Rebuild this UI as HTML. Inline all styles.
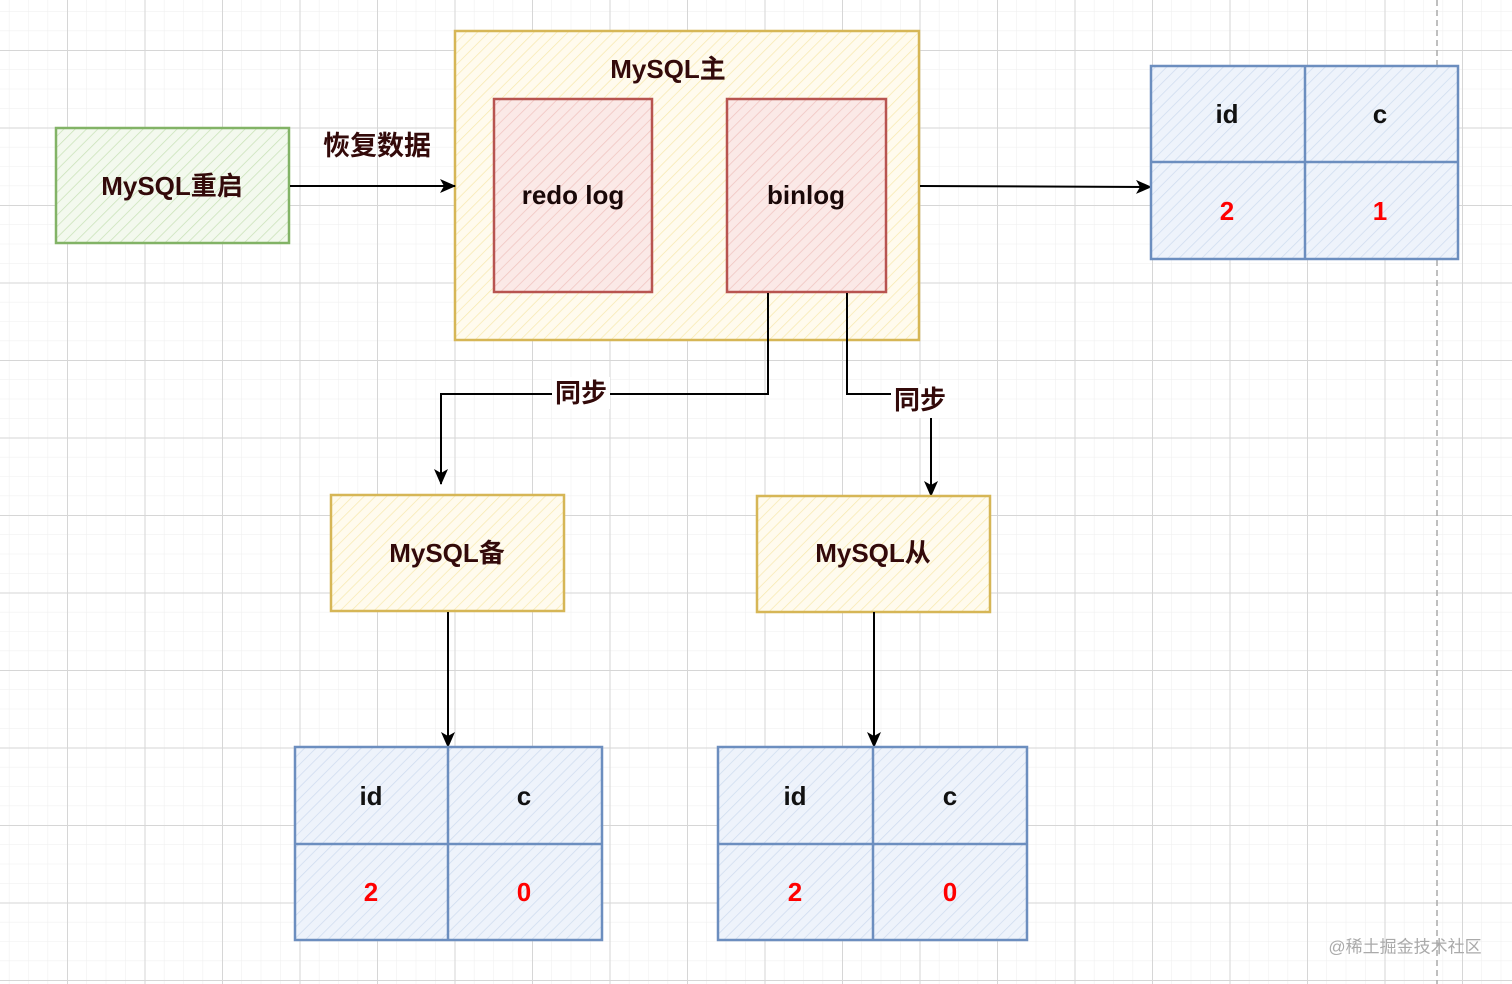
<!DOCTYPE html>
<html><head><meta charset="utf-8"><style>
html,body{margin:0;padding:0;background:#fff;}
svg{display:block;}
text{font-family:"Liberation Sans","Noto Sans CJK SC",sans-serif;font-weight:bold;text-anchor:middle;dominant-baseline:central;}
</style></head><body>
<svg width="1512" height="984" viewBox="0 0 1512 984" xmlns="http://www.w3.org/2000/svg">
<defs>
<pattern id="minor" width="19.375" height="19.375" patternUnits="userSpaceOnUse" x="-10.5" y="50">
<path d="M0 0H19.375M0 0V19.375" stroke="#eeeeee" stroke-width="1" fill="none"/>
</pattern>
<pattern id="major" width="77.5" height="77.5" patternUnits="userSpaceOnUse" x="-10.5" y="50">
<path d="M0 0.5H77.5M0.5 0V77.5" stroke="#d6d6d6" stroke-width="1" fill="none"/>
</pattern>
<pattern id="hg" width="8" height="8" patternUnits="userSpaceOnUse" patternTransform="rotate(45)"><rect width="8" height="8" fill="#f3f9ee"/><line x1="0" y1="0" x2="0" y2="8" stroke="#c9e2b8" stroke-width="1.5"/></pattern>
<pattern id="hy" width="8" height="8" patternUnits="userSpaceOnUse" patternTransform="rotate(45)"><rect width="8" height="8" fill="#fffbee"/><line x1="0" y1="0" x2="0" y2="8" stroke="#f7e9b0" stroke-width="1.5"/></pattern>
<pattern id="hr" width="8" height="8" patternUnits="userSpaceOnUse" patternTransform="rotate(45)"><rect width="8" height="8" fill="#fbe9e7"/><line x1="0" y1="0" x2="0" y2="8" stroke="#f0c4c0" stroke-width="1.5"/></pattern>
<pattern id="hb" width="8" height="8" patternUnits="userSpaceOnUse" patternTransform="rotate(45)"><rect width="8" height="8" fill="#eef3fb"/><line x1="0" y1="0" x2="0" y2="8" stroke="#cfdcef" stroke-width="1.5"/></pattern>
<marker id="ar" viewBox="0 0 16 14" refX="15" refY="7" markerWidth="16" markerHeight="14" orient="auto" markerUnits="userSpaceOnUse"><path d="M0 0L16 7L0 14L4 7z" fill="#000"/></marker>
</defs>
<rect width="1512" height="984" fill="url(#minor)"/>
<rect width="1512" height="984" fill="url(#major)"/>
<line x1="1437" y1="0" x2="1437" y2="984" stroke="#aaa" stroke-width="1.5" stroke-dasharray="6,4"/>

<rect x="56" y="128" width="233" height="115" fill="url(#hg)" stroke="#82b366" stroke-width="2.5"/>
<text x="172" y="186" font-size="26" fill="#330a0a">MySQL重启</text>

<rect x="455" y="31" width="464" height="309" fill="url(#hy)" stroke="#d6b656" stroke-width="2.5"/>
<text x="668" y="69" font-size="26" fill="#330a0a">MySQL主</text>
<rect x="494" y="99" width="158" height="193" fill="url(#hr)" stroke="#b85450" stroke-width="2.5"/>
<text x="573" y="195" font-size="26" fill="#1a0808">redo log</text>
<rect x="727" y="99" width="159" height="193" fill="url(#hr)" stroke="#b85450" stroke-width="2.5"/>
<text x="806" y="195" font-size="26" fill="#1a0808">binlog</text>

<line x1="290" y1="186" x2="455" y2="186" stroke="#000" stroke-width="2" marker-end="url(#ar)"/>
<text x="377" y="146" font-size="27" fill="#330a0a">恢复数据</text>
<line x1="920" y1="186" x2="1151" y2="187" stroke="#000" stroke-width="2" marker-end="url(#ar)"/>
<path d="M768 293V394H441V484" fill="none" stroke="#000" stroke-width="2" marker-end="url(#ar)"/>
<rect x="552" y="377" width="58" height="32" fill="#fff"/>
<text x="581" y="393" font-size="26" fill="#330a0a">同步</text>
<path d="M847 293V394H931V496" fill="none" stroke="#000" stroke-width="2" marker-end="url(#ar)"/>
<rect x="891" y="384" width="58" height="34" fill="#fff"/>
<text x="920" y="400" font-size="26" fill="#330a0a">同步</text>

<rect x="331" y="495" width="233" height="116" fill="url(#hy)" stroke="#d6b656" stroke-width="2.5"/>
<text x="447" y="553" font-size="26" fill="#330a0a">MySQL备</text>
<rect x="757" y="496" width="233" height="116" fill="url(#hy)" stroke="#d6b656" stroke-width="2.5"/>
<text x="873" y="553" font-size="26" fill="#330a0a">MySQL从</text>
<line x1="448" y1="612" x2="448" y2="747" stroke="#000" stroke-width="2" marker-end="url(#ar)"/>
<line x1="874" y1="612" x2="874" y2="747" stroke="#000" stroke-width="2" marker-end="url(#ar)"/>

<g stroke="#6c8ebf" stroke-width="2.5">
<rect x="1151" y="66" width="307" height="193" fill="url(#hb)"/>
<line x1="1305" y1="66" x2="1305" y2="259"/><line x1="1151" y1="162" x2="1458" y2="162"/>
<rect x="295" y="747" width="307" height="193" fill="url(#hb)"/>
<line x1="448" y1="747" x2="448" y2="940"/><line x1="295" y1="844" x2="602" y2="844"/>
<rect x="718" y="747" width="309" height="193" fill="url(#hb)"/>
<line x1="873" y1="747" x2="873" y2="940"/><line x1="718" y1="844" x2="1027" y2="844"/>
</g>
<g font-size="26">
<text x="1227" y="114" fill="#111">id</text><text x="1380" y="114" fill="#111">c</text>
<text x="1227" y="211" fill="#f00">2</text><text x="1380" y="211" fill="#f00">1</text>
<text x="371" y="796" fill="#111">id</text><text x="524" y="796" fill="#111">c</text>
<text x="371" y="892" fill="#f00">2</text><text x="524" y="892" fill="#f00">0</text>
<text x="795" y="796" fill="#111">id</text><text x="950" y="796" fill="#111">c</text>
<text x="795" y="892" fill="#f00">2</text><text x="950" y="892" fill="#f00">0</text>
</g>
<text x="1405" y="947" font-size="17" fill="#aaa" style="font-weight:normal">@稀土掘金技术社区</text>
</svg>
</body></html>
